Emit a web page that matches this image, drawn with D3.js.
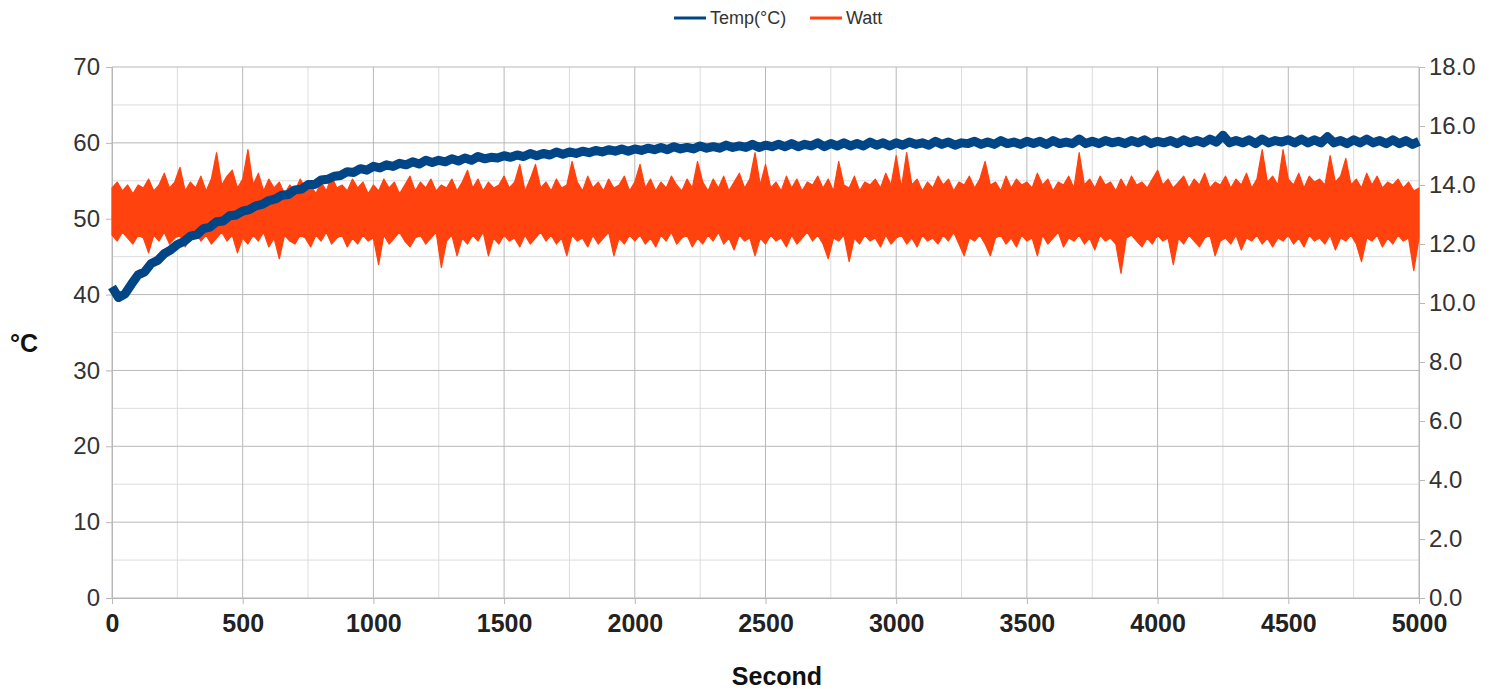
<!DOCTYPE html>
<html>
<head>
<meta charset="utf-8">
<script src="https://cdn.jsdelivr.net/npm/d3@7"></script>
<style>
  body { margin: 0; background: #fff; }
  svg { display: block; font-family: "Liberation Sans", Arial, sans-serif; }
</style>
</head>
<body>
<div id="chart"></div>
<script>
const tempStep = 25;
const tempC = [
  41.0, 39.6, 40.1, 41.4, 42.6, 43.0, 44.1, 44.5, 45.4, 45.9, 46.6, 47.0, 47.7, 47.9, 48.7, 48.9, 49.6, 49.7, 50.4, 50.5,
  51.0, 51.2, 51.7, 51.9, 52.4, 52.6, 53.1, 53.2, 53.8, 53.9, 54.5, 54.5, 55.1, 55.2, 55.6, 55.7, 56.2, 56.1, 56.6, 56.4, 56.9,
  56.7, 57.1, 56.9, 57.3, 57.1, 57.5, 57.2, 57.7, 57.4, 57.7, 57.5, 57.9, 57.6, 58.0, 57.7, 58.2, 57.9, 58.1, 58.0, 58.3,
  58.1, 58.4, 58.2, 58.6, 58.3, 58.6, 58.4, 58.8, 58.5, 58.8, 58.6, 58.9, 58.7, 59.0, 58.8, 59.1, 58.9, 59.2, 58.9, 59.2,
  59.0, 59.3, 59.1, 59.4, 59.1, 59.5, 59.2, 59.4, 59.2, 59.6, 59.3, 59.5, 59.3, 59.7, 59.4, 59.6, 59.4, 59.8, 59.4, 59.7,
  59.5, 59.8, 59.5, 59.9, 59.5, 59.8, 59.6, 60.0, 59.5, 59.9, 59.6, 60.0, 59.6, 59.9, 59.6, 60.1, 59.7, 60.0, 59.6, 60.0,
  59.7, 60.1, 59.8, 60.0, 59.7, 60.2, 59.8, 60.1, 59.7, 60.0, 59.9, 60.2, 59.8, 60.1, 59.8, 60.3, 59.9, 60.1, 59.8, 60.2,
  59.9, 60.2, 59.8, 60.3, 59.9, 60.1, 59.9, 60.5, 59.9, 60.2, 59.9, 60.3, 60.0, 60.2, 59.9, 60.3, 60.0, 60.4, 59.9, 60.2,
  60.0, 60.3, 59.9, 60.4, 60.0, 60.3, 60.0, 60.5, 60.1, 61.0, 60.0, 60.3, 60.0, 60.4, 59.9, 60.5, 60.0, 60.3, 60.1, 60.4,
  60.0, 60.5, 60.0, 60.4, 60.0, 60.8, 60.0, 60.3, 59.9, 60.4, 60.0, 60.5, 60.0, 60.3, 59.9, 60.4, 59.9, 60.3, 59.8, 60.2
];

// watt: highest and lowest reading in each 20 s slice
const wattStep = 20;
const wattHi = [
  13.9, 14.1, 13.8, 14.0, 13.7, 14.0, 13.9, 14.2, 13.8, 14.0, 14.4, 13.9, 14.1, 14.6, 13.8, 14.1, 13.9, 14.3, 13.8, 14.2, 15.1, 14.0, 14.3, 14.5, 13.9,
  14.2, 15.2, 14.0, 14.4, 13.8, 14.2, 13.9, 14.1, 13.7, 14.0, 13.8, 14.2, 13.9, 14.0, 13.7, 14.1, 13.8, 14.3, 13.9, 14.0, 13.8, 14.2, 13.9, 14.1, 13.7,
  14.0, 13.8, 14.2, 13.9, 14.1, 13.7, 14.0, 14.3, 13.8, 14.1, 13.9, 14.2, 13.8, 14.0, 13.9, 14.2, 13.8, 14.1, 14.5, 13.9, 14.2, 13.8, 14.1, 13.9, 14.0,
  14.3, 13.9, 14.1, 14.7, 13.8, 14.2, 14.7, 13.9, 14.1, 13.8, 14.2, 13.9, 14.0, 14.8, 14.1, 13.8, 14.3, 13.9, 14.1, 13.8, 14.2, 13.9, 14.0, 14.3, 13.8,
  14.1, 14.7, 13.9, 14.2, 13.8, 14.1, 13.9, 14.3, 14.0, 13.8, 14.2, 13.9, 14.8, 14.1, 13.8, 14.2, 13.9, 14.3, 13.8, 14.1, 14.4, 13.9, 14.2, 15.1, 14.0,
  14.7, 13.9, 14.1, 13.8, 14.3, 13.9, 14.2, 13.8, 14.1, 14.0, 14.3, 13.9, 14.2, 13.8, 14.8, 14.0, 13.9, 14.3, 13.8, 14.1, 14.0, 14.2, 13.9, 14.4, 14.0,
  15.0, 13.9, 15.1, 14.0, 14.2, 13.8, 14.1, 13.9, 14.3, 14.0, 14.2, 13.8, 14.1, 14.0, 14.3, 13.9, 14.2, 14.8, 14.0, 14.1, 13.8, 14.3, 13.9, 14.2, 14.0,
  14.1, 13.9, 14.4, 14.0, 14.2, 13.8, 14.1, 14.0, 14.3, 13.9, 15.1, 14.0, 14.2, 13.9, 14.3, 14.0, 14.1, 13.8, 14.2, 13.9, 14.3, 14.0, 14.1, 13.9, 14.2,
  14.5, 14.0, 14.2, 13.9, 14.1, 14.3, 13.9, 14.2, 14.0, 14.4, 13.9, 14.1, 14.0, 14.3, 13.9, 14.2, 14.0, 14.4, 13.9, 14.2, 15.2, 14.1, 14.3, 14.0, 15.2,
  14.2, 14.0, 14.4, 13.9, 14.3, 14.1, 14.2, 14.0, 15.0, 14.1, 14.3, 14.9, 14.0, 14.2, 13.9, 14.4, 14.0, 14.3, 13.9, 14.1, 14.0, 14.2, 13.9, 14.1, 13.8,
  13.9
];
const wattLo = [
  12.3, 12.1, 12.4, 12.2, 12.0, 12.3, 12.2, 11.7, 12.3, 12.1, 12.4, 12.0, 12.2, 12.3, 11.9, 12.2, 12.4, 12.1, 12.3, 12.0, 12.2, 12.4, 12.1, 12.3, 11.7,
  12.2, 12.0, 12.3, 12.1, 12.4, 11.9, 12.2, 11.5, 12.3, 12.1, 12.0, 12.3, 12.2, 11.9, 12.3, 12.1, 12.4, 12.0, 12.2, 12.3, 11.9, 12.2, 12.0, 12.3, 12.1,
  12.2, 11.3, 12.3, 12.0, 12.2, 12.4, 12.1, 11.9, 12.2, 12.3, 12.0, 12.2, 12.4, 11.2, 12.1, 12.3, 11.6, 12.2, 12.0, 12.3, 12.1, 12.4, 11.6, 12.2, 12.0,
  12.3, 12.1, 12.2, 11.9, 12.3, 12.0, 12.2, 12.4, 12.1, 12.3, 12.0, 12.2, 11.6, 12.3, 12.1, 12.2, 11.9, 12.3, 12.0, 12.2, 12.4, 11.6, 12.2, 12.0, 12.3,
  12.1, 12.3, 12.0, 12.2, 11.9, 12.3, 12.1, 12.4, 12.0, 12.2, 12.3, 11.9, 12.2, 12.0, 12.3, 12.1, 12.4, 12.0, 12.2, 11.8, 12.3, 12.1, 12.2, 11.6, 12.2,
  12.0, 12.3, 12.1, 12.2, 11.9, 12.3, 12.0, 12.2, 12.4, 12.1, 12.3, 12.0, 11.5, 12.2, 12.1, 12.3, 11.4, 12.2, 12.0, 12.3, 12.1, 12.2, 11.9, 12.3, 12.0,
  12.2, 12.3, 12.0, 12.2, 11.9, 12.3, 12.1, 12.2, 12.0, 12.3, 12.1, 12.4, 12.0, 11.6, 12.2, 12.1, 12.3, 12.0, 11.6, 12.2, 12.3, 12.0, 12.2, 11.9, 12.3,
  12.1, 12.2, 11.6, 12.3, 12.0, 12.2, 12.4, 11.9, 12.2, 12.1, 12.3, 12.0, 12.2, 11.8, 12.3, 12.1, 12.2, 12.0, 11.0, 12.2, 12.3, 12.1, 11.9, 12.2, 12.0,
  12.3, 12.1, 12.2, 11.3, 12.2, 12.0, 12.3, 12.1, 11.9, 12.2, 12.3, 11.6, 12.1, 12.2, 12.0, 12.3, 11.8, 12.2, 12.1, 12.3, 12.0, 12.2, 11.9, 12.2, 12.1,
  12.3, 12.0, 12.2, 11.9, 12.3, 12.1, 12.2, 12.0, 12.3, 11.8, 12.2, 12.1, 12.3, 12.0, 11.4, 12.2, 12.1, 12.3, 11.9, 12.2, 12.0, 12.3, 12.1, 12.2, 11.1,
  12.2
];

const xTicks = [0, 500, 1000, 1500, 2000, 2500, 3000, 3500, 4000, 4500, 5000];
const leftTicks = [0, 10, 20, 30, 40, 50, 60, 70];
const rightTicks = [0, 2, 4, 6, 8, 10, 12, 14, 16, 18];

const width = 1493, height = 689;
const margin = {top: 67, right: 74, bottom: 91, left: 112};

const svg = d3.select("#chart").append("svg")
  .attr("width", width)
  .attr("height", height);

const x = d3.scaleLinear().domain([0, 5000]).range([margin.left, width - margin.right]);
const yL = d3.scaleLinear().domain([0, 70]).range([height - margin.bottom, margin.top]);
const yR = d3.scaleLinear().domain([0, 18]).range([height - margin.bottom, margin.top]);

// minor grid
const grid = svg.append("g");
grid.selectAll(".vminor").data(d3.range(250, 5000, 500)).enter().append("line")
  .attr("x1", d => x(d)).attr("x2", d => x(d))
  .attr("y1", yL(0)).attr("y2", yL(70))
  .attr("stroke", "#dcdcdc");
grid.selectAll(".hminor").data(d3.range(5, 70, 10)).enter().append("line")
  .attr("x1", x(0)).attr("x2", x(5000))
  .attr("y1", d => yL(d)).attr("y2", d => yL(d))
  .attr("stroke", "#dcdcdc");
// major grid
grid.selectAll(".vmajor").data(xTicks).enter().append("line")
  .attr("x1", d => x(d)).attr("x2", d => x(d))
  .attr("y1", yL(0)).attr("y2", yL(70))
  .attr("stroke", "#b8b8b8");
grid.selectAll(".hmajor").data(leftTicks).enter().append("line")
  .attr("x1", x(0)).attr("x2", x(5000))
  .attr("y1", d => yL(d)).attr("y2", d => yL(d))
  .attr("stroke", "#b8b8b8");

// axes
const xAxis = svg.append("g")
  .attr("transform", `translate(0,${yL(0)})`)
  .call(d3.axisBottom(x).tickValues(xTicks).tickSize(6).tickPadding(10).tickFormat(d3.format("d")));
xAxis.selectAll("text").attr("font-size", 25).attr("font-weight", "bold").attr("fill", "#222");

const yAxisL = svg.append("g")
  .attr("transform", `translate(${x(0)},0)`)
  .call(d3.axisLeft(yL).tickValues(leftTicks).tickSize(6).tickPadding(6));
yAxisL.selectAll("text").attr("font-size", 24).attr("fill", "#333");

const yAxisR = svg.append("g")
  .attr("transform", `translate(${x(5000)},0)`)
  .call(d3.axisRight(yR).tickValues(rightTicks).tickSize(6).tickPadding(4).tickFormat(d3.format(".1f")));
yAxisR.selectAll("text").attr("font-size", 24).attr("fill", "#333");

svg.selectAll(".domain, .tick line").attr("stroke", "#b8b8b8");
svg.selectAll(".tick text").attr("font-family", "Liberation Sans, Arial, sans-serif");

// series
const wattBand = wattHi.map((hi, i) => ({t: i * wattStep, hi: hi, lo: wattLo[i]}));
svg.append("path")
  .datum(wattBand)
  .attr("fill", "#ff420e")
  .attr("stroke", "#ff420e")
  .attr("stroke-width", 1.2)
  .attr("stroke-linejoin", "round")
  .attr("d", d3.area().x(d => x(d.t)).y0(d => yR(d.lo)).y1(d => yR(d.hi)));

svg.append("path")
  .datum(tempC)
  .attr("fill", "none")
  .attr("stroke", "#004586")
  .attr("stroke-width", 9)
  .attr("stroke-linejoin", "round")
  .attr("d", d3.line().x((d, i) => x(i * tempStep)).y(d => yL(d)));

// axis titles
svg.append("text")
  .attr("x", 24).attr("y", 352)
  .attr("text-anchor", "middle")
  .attr("font-size", 25).attr("font-weight", "bold").attr("fill", "#111")
  .text("°C");

svg.append("text")
  .attr("x", 777).attr("y", 685)
  .attr("text-anchor", "middle")
  .attr("font-size", 25).attr("font-weight", "bold").attr("fill", "#111")
  .text("Second");

// legend
const legend = svg.append("g");
const items = [
  {label: "Temp(°C)", color: "#004586", x: 674},
  {label: "Watt", color: "#ff420e", x: 810}
];
items.forEach(it => {
  legend.append("line")
    .attr("x1", it.x).attr("x2", it.x + 32)
    .attr("y1", 18).attr("y2", 18)
    .attr("stroke", it.color).attr("stroke-width", 3);
  legend.append("text")
    .attr("x", it.x + 36).attr("y", 24)
    .attr("font-size", 18).attr("fill", "#333")
    .text(it.label);
});
</script>
</body>
</html>
